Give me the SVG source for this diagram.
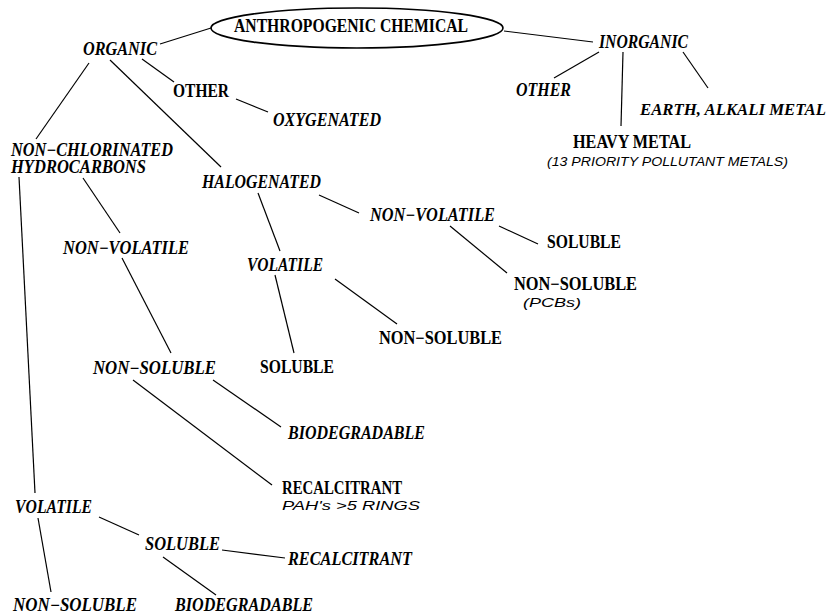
<svg xmlns="http://www.w3.org/2000/svg" width="833" height="615" viewBox="0 0 833 615">
<style>
.b{font-family:"Liberation Serif","Times New Roman",serif;font-weight:bold;font-size:18px;fill:#000}
.bi{font-family:"Liberation Serif","Times New Roman",serif;font-weight:bold;font-style:italic;font-size:18px;fill:#000}
.s{font-family:"Liberation Sans",Arial,sans-serif;font-style:italic;font-size:13px;fill:#000}
.c line{stroke:#000;stroke-width:1.2;fill:none}
</style>
<rect width="833" height="615" fill="#fff"/>
<g class="c" id="connectors">
<line x1="211" y1="28" x2="160" y2="44"/>
<line x1="89" y1="63" x2="36" y2="139"/>
<line x1="110" y1="60" x2="221" y2="167"/>
<line x1="142" y1="59" x2="174" y2="82"/>
<line x1="236" y1="99" x2="268" y2="112"/>
<line x1="83" y1="178" x2="120" y2="233"/>
<line x1="19" y1="177" x2="35" y2="493"/>
<line x1="258" y1="193" x2="280" y2="251"/>
<line x1="319" y1="195" x2="359" y2="213"/>
<line x1="504" y1="31" x2="593" y2="42"/>
<line x1="599" y1="52" x2="554" y2="78"/>
<line x1="623" y1="52" x2="621" y2="126"/>
<line x1="683" y1="52" x2="708" y2="88"/>
<line x1="122" y1="258" x2="171" y2="353"/>
<line x1="275" y1="275" x2="294" y2="353"/>
<line x1="335" y1="279" x2="397" y2="324"/>
<line x1="133" y1="380" x2="272" y2="485"/>
<line x1="213" y1="380" x2="281" y2="427"/>
<line x1="499" y1="226" x2="538" y2="244"/>
<line x1="450" y1="226" x2="507" y2="273"/>
<line x1="38" y1="518" x2="51" y2="592"/>
<line x1="99" y1="517" x2="139" y2="535"/>
<line x1="222" y1="550" x2="285" y2="558"/>
<line x1="163" y1="557" x2="216" y2="595"/>
</g>
<g id="root"><ellipse cx="357" cy="28" rx="146" ry="20" fill="none" stroke="#000" stroke-width="1.6"/><text class="b" x="234" y="32" textLength="234" lengthAdjust="spacingAndGlyphs">ANTHROPOGENIC  CHEMICAL</text></g>
<g id="organic"><text class="bi" x="83" y="55" textLength="74" lengthAdjust="spacingAndGlyphs">ORGANIC</text></g>
<g id="other-org"><text class="b" x="173" y="97" textLength="56" lengthAdjust="spacingAndGlyphs">OTHER</text></g>
<g id="oxygenated"><text class="bi" x="273" y="126" textLength="108" lengthAdjust="spacingAndGlyphs">OXYGENATED</text></g>
<g id="nonchlor"><text class="bi" x="11" y="156" textLength="162" lengthAdjust="spacingAndGlyphs">NON−CHLORINATED</text><text class="bi" x="11" y="172.5" textLength="135" lengthAdjust="spacingAndGlyphs">HYDROCARBONS</text></g>
<g id="halogenated"><text class="bi" x="202" y="188" textLength="119" lengthAdjust="spacingAndGlyphs">HALOGENATED</text></g>
<g id="inorganic"><text class="bi" x="599" y="48" textLength="89" lengthAdjust="spacingAndGlyphs">INORGANIC</text></g>
<g id="other-inorg"><text class="bi" x="516" y="96" textLength="55" lengthAdjust="spacingAndGlyphs">OTHER</text></g>
<g id="earth"><text class="bi" x="640" y="115" textLength="186" lengthAdjust="spacingAndGlyphs" style="font-size:17px">EARTH, ALKALI METAL</text></g>
<g id="heavy"><text class="b" x="573" y="148" textLength="118" lengthAdjust="spacingAndGlyphs">HEAVY  METAL</text><text class="s" x="547" y="166" textLength="241" lengthAdjust="spacingAndGlyphs">(13 PRIORITY POLLUTANT METALS)</text></g>
<g id="nv-left"><text class="bi" x="63" y="254" textLength="126" lengthAdjust="spacingAndGlyphs">NON−VOLATILE</text></g>
<g id="vol-hal"><text class="bi" x="247" y="271" textLength="76" lengthAdjust="spacingAndGlyphs">VOLATILE</text></g>
<g id="nv-hal"><text class="bi" x="370" y="221" textLength="125" lengthAdjust="spacingAndGlyphs">NON−VOLATILE</text></g>
<g id="sol-nvhal"><text class="b" x="547" y="248" textLength="74" lengthAdjust="spacingAndGlyphs">SOLUBLE</text></g>
<g id="ns-nvhal"><text class="b" x="514" y="290" textLength="123" lengthAdjust="spacingAndGlyphs">NON−SOLUBLE</text><text class="s" x="523" y="307" textLength="58" lengthAdjust="spacingAndGlyphs">(PCBs)</text></g>
<g id="ns-volhal"><text class="b" x="379" y="344" textLength="123" lengthAdjust="spacingAndGlyphs">NON−SOLUBLE</text></g>
<g id="sol-volhal"><text class="b" x="260" y="373" textLength="74" lengthAdjust="spacingAndGlyphs">SOLUBLE</text></g>
<g id="ns-left"><text class="bi" x="93" y="374" textLength="123" lengthAdjust="spacingAndGlyphs">NON−SOLUBLE</text></g>
<g id="bio1"><text class="bi" x="288" y="439" textLength="137" lengthAdjust="spacingAndGlyphs">BIODEGRADABLE</text></g>
<g id="recal1"><text class="b" x="282" y="494" textLength="120" lengthAdjust="spacingAndGlyphs">RECALCITRANT</text><text class="s" x="282" y="510" textLength="138" lengthAdjust="spacingAndGlyphs">PAH's &gt;5 RINGS</text></g>
<g id="vol-left"><text class="bi" x="15" y="513" textLength="77" lengthAdjust="spacingAndGlyphs">VOLATILE</text></g>
<g id="sol-left"><text class="bi" x="145" y="550" textLength="75" lengthAdjust="spacingAndGlyphs">SOLUBLE</text></g>
<g id="recal2"><text class="bi" x="288" y="565" textLength="124" lengthAdjust="spacingAndGlyphs">RECALCITRANT</text></g>
<g id="ns-bottom"><text class="bi" x="13" y="611" textLength="124" lengthAdjust="spacingAndGlyphs">NON−SOLUBLE</text></g>
<g id="bio2"><text class="bi" x="175" y="611" textLength="138" lengthAdjust="spacingAndGlyphs">BIODEGRADABLE</text></g>
</svg>
